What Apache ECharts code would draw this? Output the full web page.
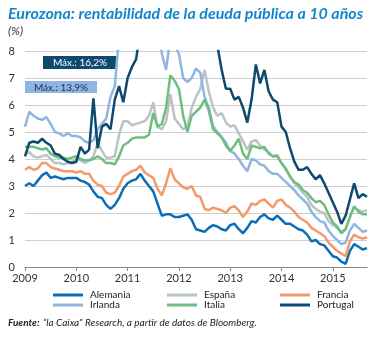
<!DOCTYPE html>
<html>
<head>
<meta charset="utf-8">
<script src="https://cdn.jsdelivr.net/npm/echarts@6/dist/echarts.min.js"></script>
<style>
html,body{margin:0;padding:0;background:#fff;}
#chart{width:390px;height:338px;}
</style>
</head>
<body>
<div id="chart"></div>
<script>
// Monthly observations, Jan 2009 .. Sep 2015
const months = [];
for (let y = 2009; y <= 2015; y++) {
  for (let m = 1; m <= 12; m++) {
    if (months.length < 81) months.push(y + '-' + String(m).padStart(2, '0'));
  }
}

const yTicks = [0, 1, 2, 3, 4, 5, 6, 7, 8];

const alemania = [
  3.0, 3.1, 3.0, 3.2, 3.4, 3.5, 3.3, 3.35, 3.3, 3.25, 3.3, 3.3,
  3.3, 3.2, 3.15, 3.05, 2.8, 2.6, 2.55, 2.3, 2.15, 2.3, 2.55, 2.9,
  3.1, 3.2, 3.25, 3.45, 3.2, 3.0, 2.8, 2.35, 1.9, 1.95, 1.95, 1.85,
  1.85, 1.9, 1.95, 1.75, 1.4, 1.35, 1.3, 1.45, 1.55, 1.5, 1.4, 1.35,
  1.55, 1.6, 1.4, 1.25, 1.45, 1.7, 1.65, 1.85, 1.95, 1.8, 1.75, 1.9,
  1.75, 1.6, 1.6, 1.5, 1.4, 1.35, 1.2, 0.95, 1.0, 0.85, 0.8, 0.6,
  0.4, 0.35, 0.2, 0.12, 0.6, 0.85, 0.75, 0.65, 0.7
];
const espana = [
  4.2, 4.25, 4.1, 4.05, 4.1, 4.15, 4.0, 3.85, 3.85, 3.8, 3.85, 3.9,
  4.0, 3.95, 3.85, 3.95, 4.1, 4.6, 4.3, 4.05, 4.05, 4.1, 4.9, 5.4,
  5.4, 5.25, 5.3, 5.35, 5.4, 5.6, 6.1, 5.2, 5.1, 5.4, 6.4, 5.5,
  5.3, 5.1, 5.2, 5.9, 6.3, 6.6, 7.3, 6.5, 5.9, 5.6, 5.7, 5.35,
  5.2, 5.25, 4.95, 4.65, 4.35, 4.65, 4.7, 4.5, 4.35, 4.25, 4.1, 4.15,
  3.85, 3.6, 3.35, 3.1, 2.95, 2.75, 2.6, 2.3, 2.15, 2.05, 2.0, 1.7,
  1.55, 1.45, 1.3, 1.4, 1.85, 2.2, 2.1, 2.05, 2.1
];
const francia = [
  3.6, 3.7, 3.6, 3.65, 3.85, 3.85, 3.7, 3.65, 3.6, 3.55, 3.55, 3.55,
  3.5, 3.55, 3.45, 3.45, 3.2, 3.05, 3.0, 2.75, 2.7, 2.75, 3.0, 3.35,
  3.45, 3.55, 3.6, 3.75, 3.5, 3.4, 3.3, 2.9, 2.65, 3.1, 3.65, 3.25,
  3.1, 2.95, 2.9, 3.0, 2.65, 2.6, 2.15, 2.1, 2.2, 2.15, 2.1, 2.0,
  2.2, 2.25, 2.1, 1.85, 2.05, 2.35, 2.3, 2.45, 2.5, 2.35, 2.2, 2.45,
  2.5, 2.3, 2.2, 2.05, 1.85, 1.75, 1.65, 1.45, 1.35, 1.25, 1.15, 0.9,
  0.75, 0.6, 0.5, 0.4, 0.95, 1.2, 1.1, 1.05, 1.1
];
const irlanda = [
  5.2, 5.75, 5.6, 5.5, 5.45, 5.55, 5.3, 5.0, 4.95, 4.85, 4.95, 4.85,
  4.85, 4.8, 4.65, 4.6, 4.7, 5.1, 5.3, 5.5, 6.3, 6.7, 8.5, 8.6,
  8.9, 9.1, 9.7, 9.8, 10.5, 11.2, 13.9, 9.5, 7.9, 7.3, 8.5, 8.2,
  7.9, 7.0, 6.85, 7.0, 7.35, 7.2, 6.3, 5.9, 5.2, 5.0, 4.8, 4.6,
  4.3, 4.2, 4.0, 3.75, 3.55, 4.0, 3.95, 3.8, 3.75, 3.55, 3.45, 3.45,
  3.3, 3.15, 3.0, 2.85, 2.65, 2.5, 2.35, 2.05, 1.85, 1.7, 1.65, 1.35,
  1.15, 1.0, 0.85, 0.9, 1.35, 1.6, 1.45, 1.3, 1.35
];
const italia = [
  4.45, 4.45, 4.45, 4.4, 4.35, 4.4, 4.2, 4.1, 4.05, 4.05, 4.0, 4.05,
  4.1, 4.0, 3.95, 3.95, 4.0, 4.1, 4.0, 3.85, 3.85, 3.8, 4.1, 4.5,
  4.6, 4.75, 4.8, 4.8, 4.8, 4.9, 5.7, 5.2, 5.3, 5.9, 7.1, 6.9,
  6.6, 5.6, 5.0, 5.6, 5.75, 5.9, 6.2, 5.8, 5.1, 4.95, 4.8, 4.5,
  4.3, 4.5, 4.75, 4.2, 4.0, 4.5, 4.45, 4.4, 4.45, 4.2, 4.1, 4.1,
  3.85, 3.65, 3.35, 3.15, 3.05, 2.85, 2.75, 2.55, 2.4, 2.45, 2.3, 1.95,
  1.65, 1.5, 1.25, 1.4, 1.85, 2.25, 2.05, 1.95, 1.95
];
const portugal = [
  4.1, 4.6, 4.65, 4.6, 4.75, 4.6, 4.5, 4.2, 4.15, 4.0, 3.9, 3.85,
  3.9, 4.45, 4.2, 4.35, 6.25, 4.4, 5.2, 5.3, 5.1, 6.2, 6.7, 6.1,
  7.0, 7.4, 7.7, 8.8, 9.5, 11.0, 12.0, 10.0, 11.0, 12.0, 13.0, 13.5,
  16.2, 13.0, 12.5, 11.5, 11.5, 10.5, 10.2, 9.5, 8.8, 8.2, 7.3, 6.6,
  6.6, 6.2, 6.3, 5.9, 5.35, 6.2, 7.5, 6.8, 7.3, 6.5, 6.2, 6.1,
  5.2, 5.0, 4.4, 3.9, 3.6, 3.6, 3.7, 3.45, 3.25, 3.4, 3.1, 2.75,
  2.4, 2.05, 1.6, 1.9, 2.5, 3.1, 2.55, 2.7, 2.6
];

const seriesNames = ['Alemania', 'España', 'Francia', 'Irlanda', 'Italia', 'Portugal'];
const seriesData = [alemania, espana, francia, irlanda, italia, portugal];
const seriesColors = ['#0a6db5', '#bcc3c8', '#f4996a', '#8fb6e2', '#6fbe80', '#0d4a6e'];
const maxLabels = ['Máx.: 16,2%', 'Máx.: 13,9%'];

const FONT = 'Lato';
const chart = echarts.init(document.getElementById('chart'), null, { renderer: 'canvas' });

const legendPos = [
  [53, 290], [167, 290], [280, 290],
  [53, 300], [167, 300], [280, 300]
];

const option = {
  animation: false,
  backgroundColor: '#fff',
  textStyle: { fontFamily: FONT },
  grid: { left: 25, right: 23, top: 51, bottom: 71, containLabel: false },
  xAxis: {
    type: 'category',
    data: months,
    boundaryGap: false,
    axisLine: { lineStyle: { color: '#8a8a8a', width: 1 } },
    axisTick: { show: true, length: 4, interval: (i) => i % 12 === 0, lineStyle: { color: '#8a8a8a' } },
    axisLabel: {
      interval: (i) => i % 12 === 0,
      formatter: (v) => v.slice(0, 4),
      color: '#333', fontSize: 11, margin: 6, fontFamily: FONT
    },
    splitLine: { show: false }
  },
  yAxis: {
    type: 'value', min: 0, max: 8, interval: 1,
    axisLine: { show: false }, axisTick: { show: false },
    axisLabel: { color: '#333', fontSize: 11, margin: 10, fontFamily: FONT,
      formatter: (v) => yTicks.includes(v) ? String(v) : '' },
    splitLine: { lineStyle: { color: '#cfcfcf', width: 1 } }
  },
  legend: seriesNames.map((n, i) => ({
    data: [n], left: legendPos[i][0], top: legendPos[i][1],
    itemWidth: 30, itemHeight: 3, icon: 'rect', padding: 0, itemGap: 0,
    textStyle: { fontSize: 10, color: '#222', fontFamily: FONT, padding: [0, 0, 0, 2] }
  })),
  series: seriesNames.map((n, i) => ({
    name: n, type: 'line', data: seriesData[i], showSymbol: false, symbol: 'none',
    color: seriesColors[i],
    lineStyle: { width: 2.5, color: seriesColors[i] },
    z: 2 + i, clip: true
  })),
  graphic: [
    { type: 'text', left: 8, top: 6,
      style: { text: 'Eurozona: rentabilidad de la deuda pública a 10 años', fill: '#1586cc',
        font: 'italic bold 16px ' + FONT } },
    { type: 'text', left: 8, top: 25,
      style: { text: '(%)', fill: '#333', font: 'italic 12px ' + FONT } },
    { type: 'group', left: 43, top: 56, children: [
      { type: 'rect', shape: { x: 0, y: 0, width: 74, height: 13 }, style: { fill: '#0d4a6e' } },
      { type: 'text', style: { x: 37, y: 7, text: maxLabels[0], fill: '#fff', font: '10px ' + FONT, align: 'center', verticalAlign: 'middle' } }
    ] },
    { type: 'group', left: 25, top: 81, children: [
      { type: 'rect', shape: { x: 0, y: 0, width: 72, height: 12 }, style: { fill: '#8fb6e2' } },
      { type: 'text', style: { x: 36, y: 6.5, text: maxLabels[1], fill: '#1a2e45', font: '10px ' + FONT, align: 'center', verticalAlign: 'middle' } }
    ] },
    { type: 'text', left: 8, top: 317,
      style: { rich: {
          b: { font: 'italic bold 10px ' + FONT, fill: '#222' },
          n: { font: 'italic 10px ' + FONT, fill: '#222' }
        },
        text: '{b|Fuente:} {n|“la Caixa” Research, a partir de datos de Bloomberg.}' } }
  ]
};
chart.setOption(option);
</script>
</body>
</html>
